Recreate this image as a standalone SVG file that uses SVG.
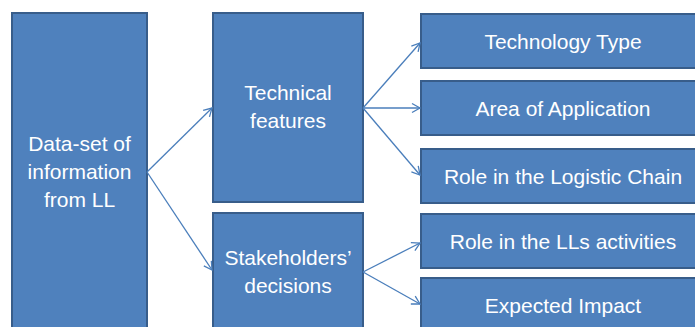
<svg xmlns="http://www.w3.org/2000/svg" width="695" height="327" viewBox="0 0 695 327">
<defs>
<style>
.box{fill:#4F81BD;stroke:#385D8A;stroke-width:2}
.t{font-family:"Liberation Sans",Arial,sans-serif;font-size:21px;fill:#FFFFFF;text-anchor:middle}
.c{stroke:#4A7EBB;stroke-width:1.3;fill:none}
</style>
<marker id="ah" markerUnits="userSpaceOnUse" markerWidth="12" markerHeight="12" viewBox="0 0 12 12" refX="10" refY="6" orient="auto">
<path d="M2,1.5 L10,6 L2,10.5" fill="none" stroke="#4A7EBB" stroke-width="1.3"/>
</marker>
</defs>
<rect width="695" height="327" fill="#FFFFFF"/>
<g id="n-dataset">
<rect class="box" x="12" y="13" width="135" height="330"/>
<text class="t" x="79.5" y="151">Data-set of</text>
<text class="t" x="79.5" y="179">information</text>
<text class="t" x="79.5" y="207">from LL</text>
</g>
<g id="n-technical">
<rect class="box" x="213" y="13" width="150" height="189"/>
<text class="t" x="288" y="100">Technical</text>
<text class="t" x="288" y="128">features</text>
</g>
<g id="n-stakeholders">
<rect class="box" x="213" y="213" width="150" height="130"/>
<text class="t" x="288" y="265">Stakeholders’</text>
<text class="t" x="288" y="293">decisions</text>
</g>
<g id="n-techtype">
<rect class="box" x="421" y="14" width="284" height="54"/>
<text class="t" x="563" y="49">Technology Type</text>
</g>
<g id="n-area">
<rect class="box" x="421" y="81" width="284" height="54"/>
<text class="t" x="563" y="116">Area of Application</text>
</g>
<g id="n-role-chain">
<rect class="box" x="421" y="149" width="284" height="54"/>
<text class="t" x="563" y="184">Role in the Logistic Chain</text>
</g>
<g id="n-role-ll">
<rect class="box" x="421" y="214" width="284" height="54"/>
<text class="t" x="563" y="249">Role in the LLs activities</text>
</g>
<g id="n-impact">
<rect class="box" x="421" y="278" width="284" height="54"/>
<text class="t" x="563" y="313">Expected Impact</text>
</g>
<g id="connectors">
<line class="c" x1="147" y1="172" x2="212" y2="108" marker-end="url(#ah)"/>
<line class="c" x1="147" y1="172" x2="212" y2="270" marker-end="url(#ah)"/>
<line class="c" x1="363" y1="108" x2="420" y2="43" marker-end="url(#ah)"/>
<line class="c" x1="363" y1="108" x2="420" y2="108" marker-end="url(#ah)"/>
<line class="c" x1="363" y1="108" x2="420" y2="175" marker-end="url(#ah)"/>
<line class="c" x1="363" y1="272" x2="420" y2="243" marker-end="url(#ah)"/>
<line class="c" x1="363" y1="272" x2="420" y2="304" marker-end="url(#ah)"/>
</g>
</svg>
